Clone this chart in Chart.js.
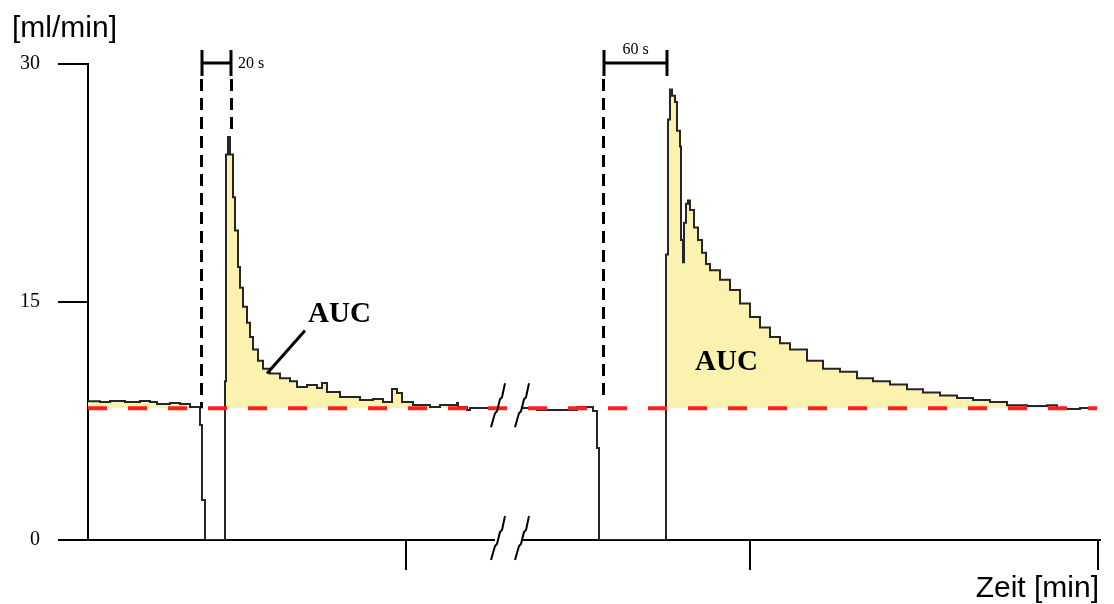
<!DOCTYPE html>
<html>
<head>
<meta charset="utf-8">
<script src="https://cdn.jsdelivr.net/npm/chart.js@4/dist/chart.umd.min.js"></script>
<style>
  html, body { margin: 0; padding: 0; background: #fff; }
  #wrap { width: 1114px; height: 604px; }
</style>
</head>
<body>
<div id="wrap"><canvas id="flowChart" width="1114" height="604"></canvas></div>
<script>
// Zeitachse (willkürliche Einheiten) und Fluss [ml/min]
const flowT = [0, 1.2, 2.2, 3.7, 5.2, 6.2, 6.9, 8.2, 9.2, 10.2, 11.2, 11.4, 11.7,
  13.7, 13.8, 14.0, 14.2, 14.5, 14.7, 15.0, 15.2, 15.5, 15.9, 16.2, 16.5, 17.0, 17.5,
  18.2, 19.2, 20.2, 20.9, 21.9, 22.9, 23.4, 23.9, 25.2, 27.2, 28.5, 29.5, 30.4, 30.9,
  31.4, 32.5, 34.2, 35.2, 36.9, 37.0, 37.9, 38.2, 40.7, 42.0,
  43.4, 44.9, 46.5, 48.9, 50.5, 50.9, 51.1,
  57.8, 58.0, 58.2, 58.4, 58.7, 58.9, 59.2, 59.3, 59.5, 59.6, 59.8, 60.0, 60.2, 60.6,
  61.0, 61.4, 61.8, 62.2, 63.2, 64.2, 65.2, 66.2, 67.2, 68.2, 69.2, 70.2, 71.9, 73.5,
  75.2, 76.9, 78.5, 80.2, 81.9, 83.5, 85.2, 86.9, 88.5, 90.2, 91.9, 93.9, 95.9, 96.9,
  97.9, 99.2, 100.5]
const flowV = [8.75, 8.70, 8.76, 8.70, 8.76, 8.70, 8.57, 8.63, 8.57, 8.38, 7.25, 2.52, 0,
  10.0, 24.3, 25.4, 24.3, 21.6, 19.5, 17.2, 15.9, 14.7, 13.7, 12.8, 12.0, 11.3, 10.8,
  10.5, 10.2, 10.0, 9.64, 9.77, 9.58, 9.89, 9.33, 9.01, 8.82, 8.88, 8.70, 9.51, 9.26,
  8.70, 8.51, 8.38, 8.51, 8.63, 8.38, 8.19, 8.32, 8.32, null,
  8.32, 8.19, 8.19, 8.38, 8.13, 5.80, 0,
  18.0, 26.5, 28.4, 28.0, 27.6, 25.8, 24.8, 18.9, 17.5, 20.0, 21.2, 21.4, 20.8, 19.7,
  18.9, 18.1, 17.4, 17.0, 16.4, 15.75, 14.9, 14.05, 13.4, 12.8, 12.4, 12.0, 11.3, 10.8,
  10.6, 10.2, 10.0, 9.8, 9.5, 9.3, 9.1, 8.95, 8.82, 8.70, 8.5, 8.44, 8.5, 8.25,
  8.25, 8.32, 8.2]

const baseline = 8.3
const baselineT = [0, 100.9]
const yTicks = [0, 15, 30]
const xTicks = [31.8, 66.2, 101.0]
const breakT = 42.0

// Markierungen: Beginn/Ende der Okklusion, Klammern
const markerT = [11.3, 14.3, 51.5]
const markerEnd = [8.3, 25.8, 8.8]
const brackets = [
  { from: 11.4, to: 14.3, label: '20 s' },
  { from: 51.6, to: 57.9, label: '60 s' },
]
const aucLabels = [
  { t: 22.0, v: 14.2 },
  { t: 60.7, v: 11.2 },
]

const ctx = document.getElementById('flowChart').getContext('2d')

const annotations = {
  id: 'annotations',
  afterDraw(chart) {
    const { ctx, scales: { x, y }, chartArea } = chart
    ctx.save()
    ctx.strokeStyle = '#000'

    // gestrichelte Senkrechten
    ctx.lineWidth = 3
    ctx.setLineDash([12, 7])
    markerT.forEach((t, i) => {
      const px = Math.round(x.getPixelForValue(t)) + 0.5
      ctx.beginPath()
      ctx.moveTo(px, chartArea.top + 15)
      ctx.lineTo(px, y.getPixelForValue(markerEnd[i]))
      ctx.stroke()
    })
    ctx.setLineDash([])

    // Klammern
    brackets.forEach((b, i) => {
      const x1 = x.getPixelForValue(b.from)
      const x2 = x.getPixelForValue(b.to)
      const yc = chartArea.top - 1
      ctx.beginPath()
      ctx.moveTo(x1, yc - 13); ctx.lineTo(x1, yc + 13)
      ctx.moveTo(x2, yc - 13); ctx.lineTo(x2, yc + 13)
      ctx.moveTo(x1, yc); ctx.lineTo(x2, yc)
      ctx.stroke()
      ctx.fillStyle = '#000'
      ctx.font = '16px "Liberation Serif", serif'
      ctx.textBaseline = 'middle'
      if (i === 0) {
        ctx.textAlign = 'left'
        ctx.fillText(b.label, x2 + 7, yc + 1)
      } else {
        ctx.textAlign = 'center'
        ctx.fillText(b.label, (x1 + x2) / 2, yc - 13)
      }
    })

    // AUC-Beschriftung
    ctx.font = 'bold 29px "Liberation Serif", serif'
    ctx.textAlign = 'left'
    ctx.textBaseline = 'middle'
    aucLabels.forEach(a => {
      ctx.fillText('AUC', x.getPixelForValue(a.t), y.getPixelForValue(a.v))
    })
    ctx.lineWidth = 3
    ctx.beginPath()
    ctx.moveTo(x.getPixelForValue(21.7), y.getPixelForValue(13.2))
    ctx.lineTo(x.getPixelForValue(17.9), y.getPixelForValue(10.5))
    ctx.stroke()

    // Achsenunterbrechung
    const bx = x.getPixelForValue(breakT)
    ctx.fillStyle = '#fff'
    ctx.fillRect(bx - 13, chartArea.bottom - 3, 27, 6)
    ctx.lineWidth = 2
    const slash = (cx, cy) => {
      ctx.beginPath()
      ctx.moveTo(cx - 7, cy + 22)
      ctx.lineTo(cx - 3, cy + 8)
      ctx.lineTo(cx - 1, cy + 6)
      ctx.lineTo(cx + 2, cy - 6)
      ctx.lineTo(cx + 4, cy - 8)
      ctx.lineTo(cx + 7, cy - 22)
      ctx.stroke()
    }
    const by = y.getPixelForValue(baseline)
    slash(bx - 10, by - 3)
    slash(bx + 14, by - 3)
    slash(bx - 10, chartArea.bottom - 2)
    slash(bx + 14, chartArea.bottom - 2)

    // Achsentitel
    ctx.fillStyle = '#000'
    ctx.font = '30px "Liberation Sans", Arial, sans-serif'
    ctx.textBaseline = 'alphabetic'
    ctx.textAlign = 'left'
    ctx.fillText('[ml/min]', 12, 37)
    ctx.textAlign = 'right'
    ctx.fillText('Zeit [min]', 1099, 597)
    ctx.restore()
  },
}

new Chart(ctx, {
  type: 'line',
  data: {
    datasets: [
      {
        label: 'Baseline',
        data: baselineT.map(t => ({ x: t, y: baseline })),
        borderColor: '#ff1f1f',
        borderWidth: 4,
        borderDash: [19, 21],
        pointRadius: 0,
        fill: false,
        order: 0,
      },
      {
        label: 'Fluss',
        data: flowT.map((t, i) => ({ x: t, y: flowV[i] })),
        borderColor: '#262626',
        borderWidth: 2,
        pointRadius: 0,
        stepped: 'before',
        spanGaps: false,
        fill: {
          target: { value: baseline },
          above: 'rgb(252, 242, 176)',
          below: 'rgba(0,0,0,0)',
        },
        order: 1,
      },
    ],
  },
  options: {
    responsive: false,
    animation: false,
    layout: { padding: { left: 0, right: 14, top: 64, bottom: 0 } },
    plugins: {
      legend: { display: false },
      tooltip: { enabled: false },
    },
    scales: {
      x: {
        type: 'linear',
        min: 0,
        max: 101.2,
        afterBuildTicks: scale => {
          scale.ticks = xTicks.map(v => ({ value: v }))
        },
        afterFit: scale => { scale.height = 64 },
        ticks: { display: false },
        grid: {
          drawOnChartArea: false,
          drawTicks: true,
          tickLength: 30,
          color: '#000',
          lineWidth: 2,
        },
        border: { color: '#000', width: 2 },
      },
      y: {
        min: 0,
        max: 30,
        afterBuildTicks: scale => {
          scale.ticks = yTicks.map(v => ({ value: v }))
        },
        afterFit: scale => { scale.width = 88 },
        ticks: {
          padding: 18,
          color: '#000',
          font: { family: '"Liberation Serif", serif', size: 20 },
        },
        grid: {
          drawOnChartArea: false,
          drawTicks: true,
          tickLength: 30,
          color: '#000',
          lineWidth: 2,
        },
        border: { color: '#000', width: 2 },
      },
    },
  },
  plugins: [annotations],
})
</script>
</body>
</html>
